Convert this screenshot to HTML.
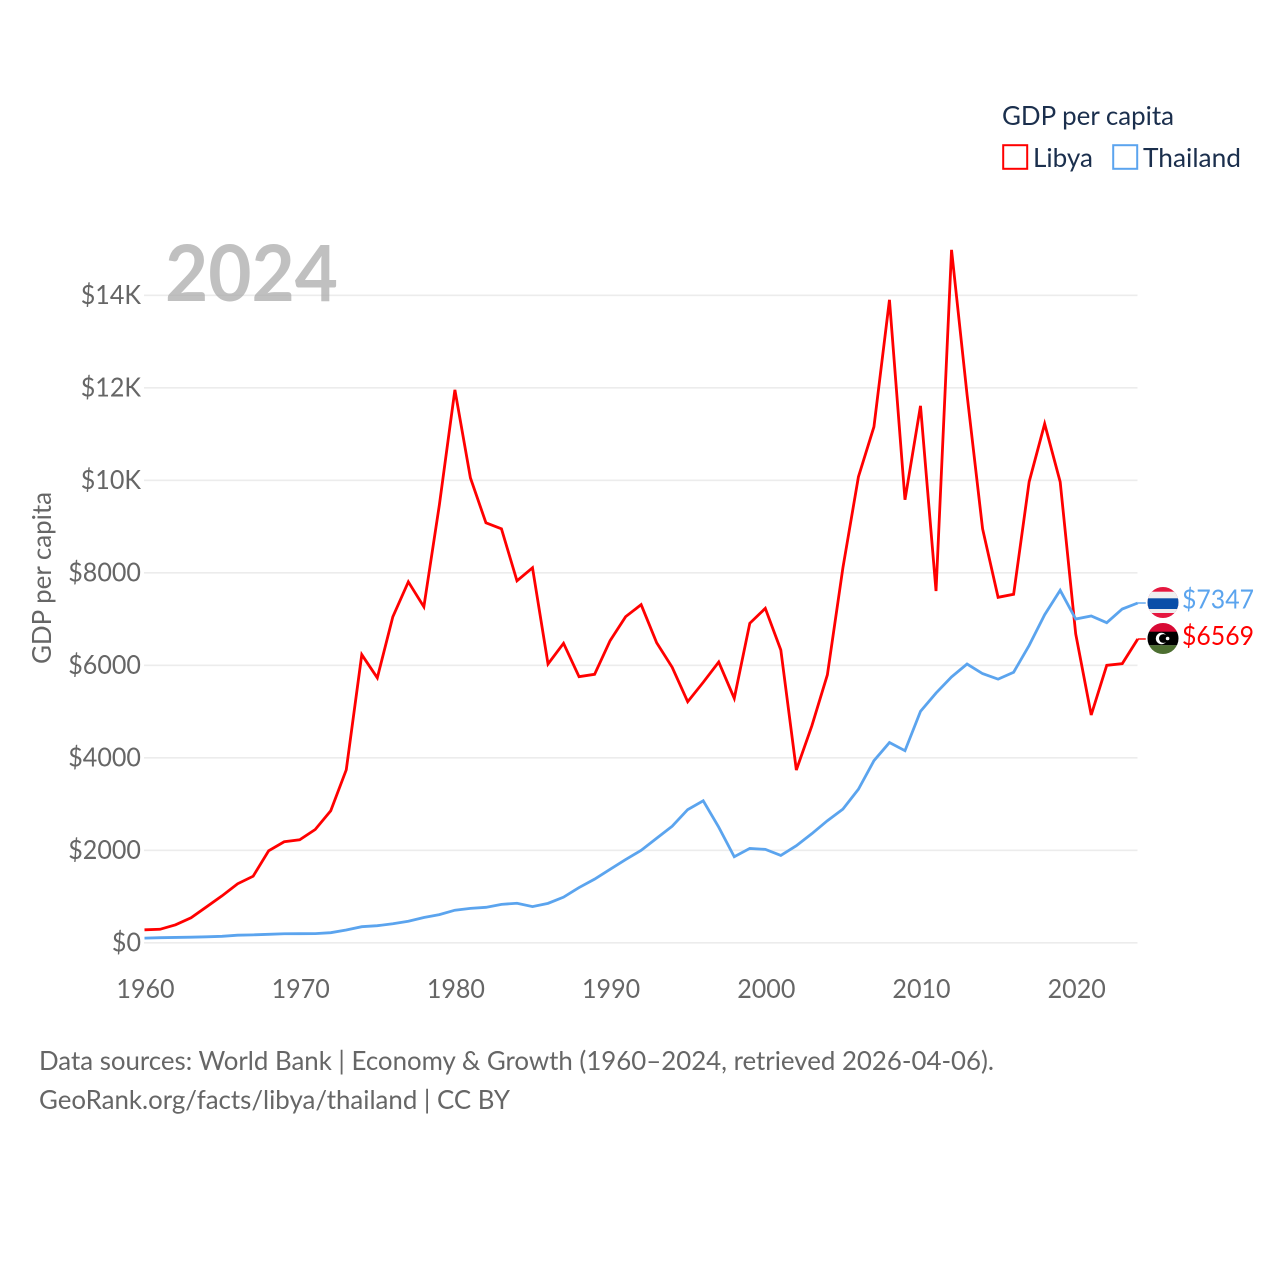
<!DOCTYPE html>
<html lang="en">
<head>
<meta charset="utf-8">
<title>GDP per capita: Libya and Thailand</title>
<style>
html,body{margin:0;padding:0;background:#fff;width:1280px;height:1280px;overflow:hidden}
svg{display:block}
text{font-family:"Lato","Carlito","Liberation Sans",sans-serif}
.tick{font-size:26.4px;fill:#666}
.leg{font-size:26.4px;fill:#1b2f4d}
.src{font-size:26.4px;fill:#666}
</style>
</head>
<body>
<svg id="chart" width="1280" height="1280" viewBox="0 0 1280 1280" xmlns="http://www.w3.org/2000/svg">
  <defs>
    <clipPath id="clip-th"><circle cx="1163" cy="602.5" r="15.5"/></clipPath>
    <clipPath id="clip-ly"><circle cx="1163" cy="638.5" r="15.5"/></clipPath>
  </defs>
  <rect x="0" y="0" width="1280" height="1280" fill="#fff"/>
  <g id="grid"></g>
  <g id="yticks"></g>
  <g id="xticks"></g>
  <text x="165" y="301" font-size="78" font-weight="700" fill="#a8a8a8" fill-opacity="0.72" textLength="173" lengthAdjust="spacingAndGlyphs">2024</text>
  <text class="tick" transform="translate(51,664) rotate(-90)" textLength="172" lengthAdjust="spacingAndGlyphs">GDP per capita</text>
  <g id="series"></g>
  <g clip-path="url(#clip-th)">
    <rect x="1147" y="587" width="32" height="32" fill="#e5173f"/>
    <rect x="1147" y="591.7" width="32" height="21.3" fill="#efefef"/>
    <rect x="1147" y="598.3" width="32" height="10.7" fill="#0a4ea8"/>
  </g>
  <g clip-path="url(#clip-ly)">
    <rect x="1147" y="623" width="32" height="9" fill="#d80a35"/>
    <rect x="1147" y="631.7" width="32" height="13.6" fill="#000"/>
    <rect x="1147" y="645.3" width="32" height="9" fill="#4d6f31"/>
    <circle cx="1161.5" cy="638.5" r="5.7" fill="#fff"/>
    <circle cx="1163.4" cy="638.5" r="4.4" fill="#000"/>
    <circle cx="1167.6" cy="638.5" r="1.8" fill="#fff"/>
  </g>
  <text id="label-th" x="1182" y="608.5" font-size="26.4" fill="#5ba4ee" textLength="72" lengthAdjust="spacingAndGlyphs"></text>
  <text id="label-ly" x="1182" y="645" font-size="26.4" fill="#ff0000" textLength="72" lengthAdjust="spacingAndGlyphs"></text>

  <g>
    <text class="leg" x="1002" y="125" textLength="172" lengthAdjust="spacingAndGlyphs">GDP per capita</text>
    <rect x="1003.2" y="145.2" width="24" height="23.6" fill="none" stroke="#ff0000" stroke-width="2"/>
    <text class="leg" x="1033" y="167" textLength="60" lengthAdjust="spacingAndGlyphs">Libya</text>
    <rect x="1113.2" y="145.2" width="24" height="23.6" fill="none" stroke="#5ba4ee" stroke-width="2"/>
    <text class="leg" x="1143" y="167" textLength="98" lengthAdjust="spacingAndGlyphs">Thailand</text>
  </g>

  <text class="src" x="39" y="1070" textLength="955" lengthAdjust="spacingAndGlyphs">Data sources: World Bank | Economy &amp; Growth (1960–2024, retrieved 2026-04-06).</text>
  <text class="src" x="39" y="1109" textLength="471" lengthAdjust="spacingAndGlyphs">GeoRank.org/facts/libya/thailand | CC BY</text>
</svg>
<script>
const startYear = 1960;
const yTickValues = [0, 2000, 4000, 6000, 8000, 10000, 12000, 14000];
const yTickLabels = ["$0", "$2000", "$4000", "$6000", "$8000", "$10K", "$12K", "$14K"];
const xTickYears = [1960, 1970, 1980, 1990, 2000, 2010, 2020];
const libyaValues = [281, 292, 389, 540, 778, 1016, 1276, 1440, 1989, 2184, 2227, 2450, 2854, 3740, 6230, 5729, 7048, 7805, 7264, 9470, 11956, 10053, 9080, 8951, 7826, 8108, 6028, 6475, 5754, 5805, 6532, 7051, 7311, 6488, 5957, 5213, 5632, 6071, 5286, 6908, 7232, 6331, 3736, 4692, 5794, 8108, 10075, 11156, 13902, 9578, 11610, 7606, 14983, 11850, 8951, 7470, 7535, 9967, 11221, 9967, 6680, 4925, 6000, 6035, 6569];
const thailandValues = [101, 110, 116, 121, 129, 140, 165, 172, 184, 195, 197, 199, 219, 277, 348, 370, 412, 465, 547, 610, 705, 745, 767, 831, 855, 783, 853, 987, 1195, 1376, 1590, 1800, 2000, 2260, 2520, 2880, 3070, 2500, 1860, 2040, 2020, 1890, 2100, 2360, 2640, 2890, 3320, 3937, 4330, 4153, 5005, 5400, 5750, 6028, 5820, 5700, 5850, 6430, 7094, 7622, 7001, 7066, 6921, 7217, 7347];

const NS = "http://www.w3.org/2000/svg";
function xScale(year) { return 144.5 + (year - 1960) * 15.52; }
function yScale(value) { return 942.8 - value * 0.04625; }
function narrowText(el) {
  el.setAttribute("lengthAdjust", "spacingAndGlyphs");
  el.setAttribute("textLength", (el.getComputedTextLength() * 0.95).toFixed(2));
}

const gridGroup = document.getElementById("grid");
const yGroup = document.getElementById("yticks");
const xGroup = document.getElementById("xticks");
const seriesGroup = document.getElementById("series");

yTickValues.forEach(function (value, i) {
  const line = document.createElementNS(NS, "line");
  
  
  line.setAttribute("x1", 144);
  line.setAttribute("x2", 1137.5);
  line.setAttribute("y1", yScale(value));
  line.setAttribute("y2", yScale(value));
  line.setAttribute("stroke", "#ececec");
  line.setAttribute("stroke-width", "1.6");
  gridGroup.appendChild(line);

  const label = document.createElementNS(NS, "text");
  
  
  label.setAttribute("class", "tick");
  label.setAttribute("x", 141);
  label.setAttribute("y", yScale(value) + 8.5);
  label.setAttribute("text-anchor", "end");
  label.textContent = yTickLabels[i];
  yGroup.appendChild(label);
  narrowText(label);
});

xTickYears.forEach(function (year) {
  const label = document.createElementNS(NS, "text");
  
  
  label.setAttribute("class", "tick");
  label.setAttribute("x", xScale(year) + 1);
  label.setAttribute("y", 998);
  label.setAttribute("text-anchor", "middle");
  label.textContent = String(year);
  xGroup.appendChild(label);
  narrowText(label);
});

function drawSeries(values, color, name) {
  const pts = values.map(function (v, i) {
    return xScale(startYear + i).toFixed(2) + "," + yScale(v).toFixed(2);
  });
  const path = document.createElementNS(NS, "polyline");
  
  
  path.setAttribute("points", pts.join(" "));
  path.setAttribute("fill", "none");
  path.setAttribute("stroke", color);
  path.setAttribute("stroke-width", "2.8");
  path.setAttribute("stroke-linejoin", "miter");
  seriesGroup.appendChild(path);

  const lastY = yScale(values[values.length - 1]);
  const lastX = xScale(startYear + values.length - 1);
  const connector = document.createElementNS(NS, "line");
  
  
  connector.setAttribute("x1", lastX);
  connector.setAttribute("x2", lastX + 8);
  connector.setAttribute("y1", lastY);
  connector.setAttribute("y2", lastY);
  connector.setAttribute("stroke", color);
  connector.setAttribute("stroke-width", "1.4");
  seriesGroup.appendChild(connector);
}

drawSeries(libyaValues, "#ff0000", "libya-line");
drawSeries(thailandValues, "#5ba4ee", "thailand-line");

document.getElementById("label-th").textContent = "$" + thailandValues[thailandValues.length - 1];
document.getElementById("label-ly").textContent = "$" + libyaValues[libyaValues.length - 1];
</script>
</body>
</html>
